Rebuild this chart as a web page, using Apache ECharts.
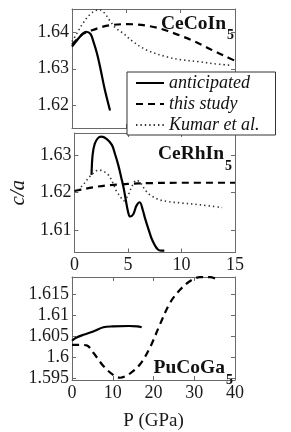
<!DOCTYPE html>
<html>
<head>
<meta charset="utf-8">
<script src="https://cdn.jsdelivr.net/npm/echarts@6/dist/echarts.min.js"></script>
<style>
html,body{margin:0;padding:0;background:#fff;}
#chart{width:291px;height:432px;}
</style>
</head>
<body>
<div id="chart"></div>
<script>
// ---- data (P in GPa, c/a) ----
const seriesNames = ['anticipated', 'this study', 'Kumar et al.'];

const ceCoInAnticipated = [[0,1.6361],[0.5,1.6380],[1.0,1.6397],[1.3,1.6402],[1.7,1.6396],[2.0,1.6372],[2.3,1.6342],[2.6,1.6303],[3.0,1.6245],[3.5,1.6185]];
const ceCoInThisStudy = [[0,1.6366],[0.5,1.6382],[1,1.6396],[1.5,1.6402],[2.5,1.6413],[3.5,1.6420],[5,1.6423],[6,1.6422],[7,1.6418],[8,1.6412],[9,1.6402],[10,1.6391],[11,1.6379],[12,1.6365],[13,1.6350],[14,1.6336],[15,1.6322]];
const ceCoInKumar = [[0,1.6375],[0.5,1.6400],[1,1.6425],[1.5,1.6445],[2,1.6458],[2.5,1.6463],[3,1.6453],[3.5,1.6432],[4,1.6413],[4.7,1.6398],[5.6,1.6375],[6.9,1.6351],[8.7,1.6333],[10,1.6325],[11.8,1.6319],[13,1.6314],[14.5,1.6310]];

const ceRhInAnticipated = [[1.6,1.6247],[1.7,1.6300],[1.9,1.6330],[2.2,1.6345],[2.5,1.6349],[3.0,1.6343],[3.5,1.6327],[3.8,1.6302],[4.1,1.6273],[4.4,1.6237],[4.6,1.6212],[4.8,1.6180],[5.0,1.6150],[5.2,1.6136],[5.5,1.6142],[5.8,1.6165],[6.1,1.6174],[6.4,1.6152],[6.6,1.6131],[7.0,1.6095],[7.2,1.6078],[7.5,1.6060],[7.8,1.6048],[8.1,1.6045],[8.4,1.6045]];
const ceRhInThisStudy = [[0,1.6204],[1,1.6210],[2,1.6215],[3,1.6219],[4,1.6221],[5,1.6223],[7,1.6225],[10,1.6226],[15,1.6226]];
const ceRhInKumar = [[0.3,1.6207],[0.8,1.6220],[1.3,1.6238],[1.8,1.6253],[2.3,1.6260],[2.8,1.6255],[3.2,1.6246],[3.6,1.6225],[3.9,1.6205],[4.26,1.6190],[4.6,1.6178],[5.0,1.6192],[5.4,1.6218],[5.8,1.6233],[6.2,1.6225],[6.6,1.6207],[7.0,1.6195],[7.8,1.6182],[8.7,1.6176],[10,1.6172],[11.8,1.6167],[13.8,1.6160]];

const puCoGaAnticipated = [[0,1.6039],[1,1.6046],[2.8,1.6053],[5.2,1.6061],[7.7,1.6071],[10,1.6073],[14,1.6074],[16,1.6073],[17.1,1.6071]];
const puCoGaThisStudy = [[0,1.6029],[2,1.6029],[3.6,1.6028],[5.2,1.6011],[7.7,1.5979],[10.1,1.5958],[11.8,1.5951],[14.2,1.5961],[16.7,1.5983],[19.1,1.6022],[21.6,1.6078],[24,1.6128],[26.5,1.6160],[29,1.6181],[31.4,1.6190],[33.9,1.6190],[35.5,1.6185]];

const xTicksCe = [0, 5, 10, 15];
const xTicksPu = [0, 10, 20, 30, 40];
const yTicksCeCoIn = [1.62, 1.63, 1.64];
const yTicksCeRhIn = [1.61, 1.62, 1.63];
const yTicksPuCoGa = [1.595, 1.6, 1.605, 1.61, 1.615];

// ---- styling / layout ----
const FONT = 'Liberation Serif, Times New Roman, serif';
const AX = '#6a6a6a';
const grids = [
  {left: 72, top: 9, width: 163, height: 119},
  {left: 72, top: 133, width: 163, height: 119.5},
  {left: 72, top: 277, width: 163, height: 115}
];
const yRanges = [[1.61366, 1.64648], [1.604, 1.63587], [1.59457, 1.61904]];
const yTicks = [yTicksCeCoIn, yTicksCeRhIn, yTicksPuCoGa];
const xTicks = [xTicksCe, xTicksCe, xTicksPu];
const xShowLabels = [false, true, true];

const fmt = v => String(+(+v).toFixed(4));

const xAxes = [], yAxes = [];
grids.forEach((g, i) => {
  const xt = xTicks[i];
  ['bottom', 'top'].forEach(pos => {
    xAxes.push({
      type: 'value', gridIndex: i, position: pos, min: xt[0], max: xt[xt.length - 1],
      axisLine: {show: true, onZero: false, lineStyle: {color: AX, width: 1}},
      axisTick: {show: true, inside: true, length: 4, lineStyle: {color: AX}, customValues: xt},
      axisLabel: {show: pos === 'bottom' && xShowLabels[i], color: '#1a1a1a', fontFamily: FONT, fontSize: 18, margin: 4,
        customValues: xt, formatter: fmt},
      splitLine: {show: false},
      name: (i === 2 && pos === 'bottom') ? 'P (GPa)' : '',
      nameLocation: 'middle', nameGap: 32,
      nameTextStyle: {color: '#1a1a1a', fontFamily: FONT, fontSize: 19}
    });
  });
  ['left', 'right'].forEach(pos => {
    yAxes.push({
      type: 'value', gridIndex: i, position: pos, min: yRanges[i][0], max: yRanges[i][1],
      axisLine: {show: true, onZero: false, lineStyle: {color: AX, width: 1}},
      axisTick: {show: true, inside: true, length: 4, lineStyle: {color: AX}, customValues: yTicks[i]},
      axisLabel: {show: pos === 'left', color: '#1a1a1a', fontFamily: FONT, fontSize: 18, margin: 3,
        customValues: yTicks[i], formatter: fmt},
      splitLine: {show: false},
      name: (i === 1 && pos === 'left') ? 'c/a' : '',
      nameLocation: 'middle', nameGap: 40, nameRotate: 90,
      nameTextStyle: {color: '#1a1a1a', fontFamily: FONT, fontSize: 21, fontStyle: 'italic'}
    });
  });
});

const styles = {
  'anticipated': {type: 'solid', width: 2.2, color: '#000'},
  'this study': {type: [7, 5], width: 2.2, color: '#000'},
  'Kumar et al.': {type: [1.4, 3], width: 1.6, color: '#333'}
};
function mk(name, data, gi) {
  return {
    name: name, type: 'line', data: data,
    xAxisIndex: gi * 2, yAxisIndex: gi * 2,
    showSymbol: false, symbol: 'none', smooth: 0.35,
    lineStyle: styles[name], itemStyle: {color: styles[name].color},
    emphasis: {disabled: true}, animation: false
  };
}
const series = [
  mk('anticipated', ceCoInAnticipated, 0),
  mk('this study', ceCoInThisStudy, 0),
  mk('Kumar et al.', ceCoInKumar, 0),
  mk('anticipated', ceRhInAnticipated, 1),
  mk('this study', ceRhInThisStudy, 1),
  mk('Kumar et al.', ceRhInKumar, 1),
  mk('anticipated', puCoGaAnticipated, 2),
  mk('this study', puCoGaThisStudy, 2)
];

function compLabel(main, sub, xr, ym, ys) {
  return [
    {type: 'text', x: xr, y: ym, z: 50, style: {text: main, fill: '#111', font: 'bold 19.5px ' + FONT, align: 'right', verticalAlign: 'middle'}},
    {type: 'text', x: xr + 1, y: ys, z: 50, style: {text: sub, fill: '#111', font: 'bold 14px ' + FONT, align: 'left', verticalAlign: 'middle'}}
  ];
}

const chart = echarts.init(document.getElementById('chart'), null, {renderer: 'canvas'});
chart.setOption({
  animation: false,
  backgroundColor: '#fff',
  grid: grids.map(g => Object.assign({containLabel: false}, g)),
  xAxis: xAxes,
  yAxis: yAxes,
  legend: {
    data: seriesNames, orient: 'vertical', left: 127, top: 72,
    itemWidth: 28, itemHeight: 14, itemGap: 3,
    padding: [2, 16, 1, 8],
    backgroundColor: '#fff', borderColor: '#333', borderWidth: 1,
    itemStyle: {opacity: 0},
    textStyle: {fontFamily: FONT, fontStyle: 'italic', fontSize: 18, lineHeight: 18, color: '#111'},
    selectedMode: false, z: 40
  },
  graphic: [].concat(
    compLabel('CeCoIn', '5', 226, 23.5, 35),
    compLabel('CeRhIn', '5', 224, 153.5, 166.5),
    compLabel('PuCoGa', '5', 225, 367.5, 380.5)
  ),
  series: series
});
</script>
</body>
</html>
